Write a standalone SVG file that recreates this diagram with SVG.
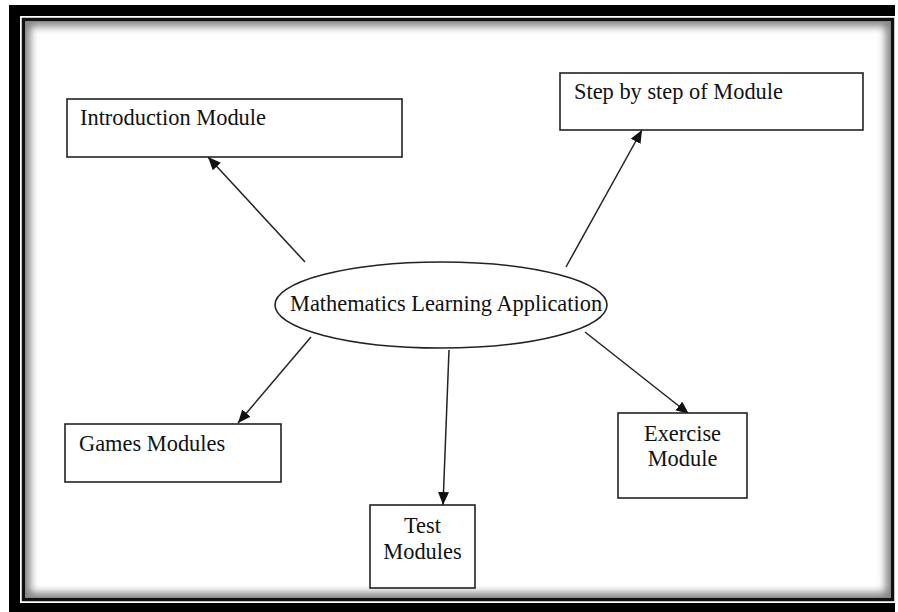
<svg xmlns="http://www.w3.org/2000/svg" width="898" height="612" viewBox="0 0 898 612">
<style>
.box{fill:#fff;stroke:#222;stroke-width:1.6}
.lbl{font-family:"Liberation Serif","Times New Roman",serif;font-size:22.4px;fill:#111}
.mid{text-anchor:middle}
.conn{stroke:#222;stroke-width:1.5;fill:none;marker-end:url(#ah)}
</style>
<defs>
<marker id="ah" markerUnits="userSpaceOnUse" markerWidth="14" markerHeight="12" refX="13" refY="5.5" orient="auto">
<path d="M0,0 L13,5.5 L0,11 Z" fill="#111"/>
</marker>
<clipPath id="inner"><rect x="25" y="21" width="866" height="577"/></clipPath>
<filter id="blur" x="-5%" y="-5%" width="110%" height="110%"><feGaussianBlur stdDeviation="4"/></filter>
</defs>
<g id="frame">
<rect x="0" y="0" width="898" height="612" fill="#fff"/>
<rect x="9" y="5" width="886" height="610" fill="#000"/>
<rect x="20" y="16" width="878" height="587" fill="#fff"/>
<rect x="23.5" y="19.5" width="869" height="580" fill="#fff" stroke="#111" stroke-width="3.5"/>
<g clip-path="url(#inner)">
<rect x="25" y="21" width="866" height="577" fill="none" stroke="#777" stroke-width="10" filter="url(#blur)"/>
</g>
</g>
<g id="connectors">
<line class="conn" x1="305" y1="262" x2="208" y2="157"/>
<line class="conn" x1="566" y1="267" x2="642" y2="130"/>
<line class="conn" x1="311" y1="337" x2="238" y2="423"/>
<line class="conn" x1="449" y1="350" x2="443" y2="505"/>
<line class="conn" x1="585" y1="332" x2="689" y2="414"/>
</g>
<g id="center">
<ellipse cx="441" cy="305" rx="166" ry="43" fill="#fff" stroke="#222" stroke-width="1.6"/>
<text class="lbl" x="290" y="311">Mathematics Learning Application</text>
</g>
<g id="intro">
<rect class="box" x="67" y="99" width="335" height="58"/>
<text class="lbl" x="80" y="125">Introduction Module</text>
</g>
<g id="step">
<rect class="box" x="560" y="73" width="303" height="57"/>
<text class="lbl" x="574" y="99">Step by step of Module</text>
</g>
<g id="games">
<rect class="box" x="65" y="424" width="216" height="58"/>
<text class="lbl" x="79" y="451">Games Modules</text>
</g>
<g id="test">
<rect class="box" x="370" y="505" width="105" height="83"/>
<text class="lbl mid" x="422.5" y="533">Test</text>
<text class="lbl mid" x="422.5" y="559">Modules</text>
</g>
<g id="exercise">
<rect class="box" x="618" y="413" width="129" height="85"/>
<text class="lbl mid" x="682.5" y="441">Exercise</text>
<text class="lbl mid" x="682.5" y="466">Module</text>
</g>
</svg>
